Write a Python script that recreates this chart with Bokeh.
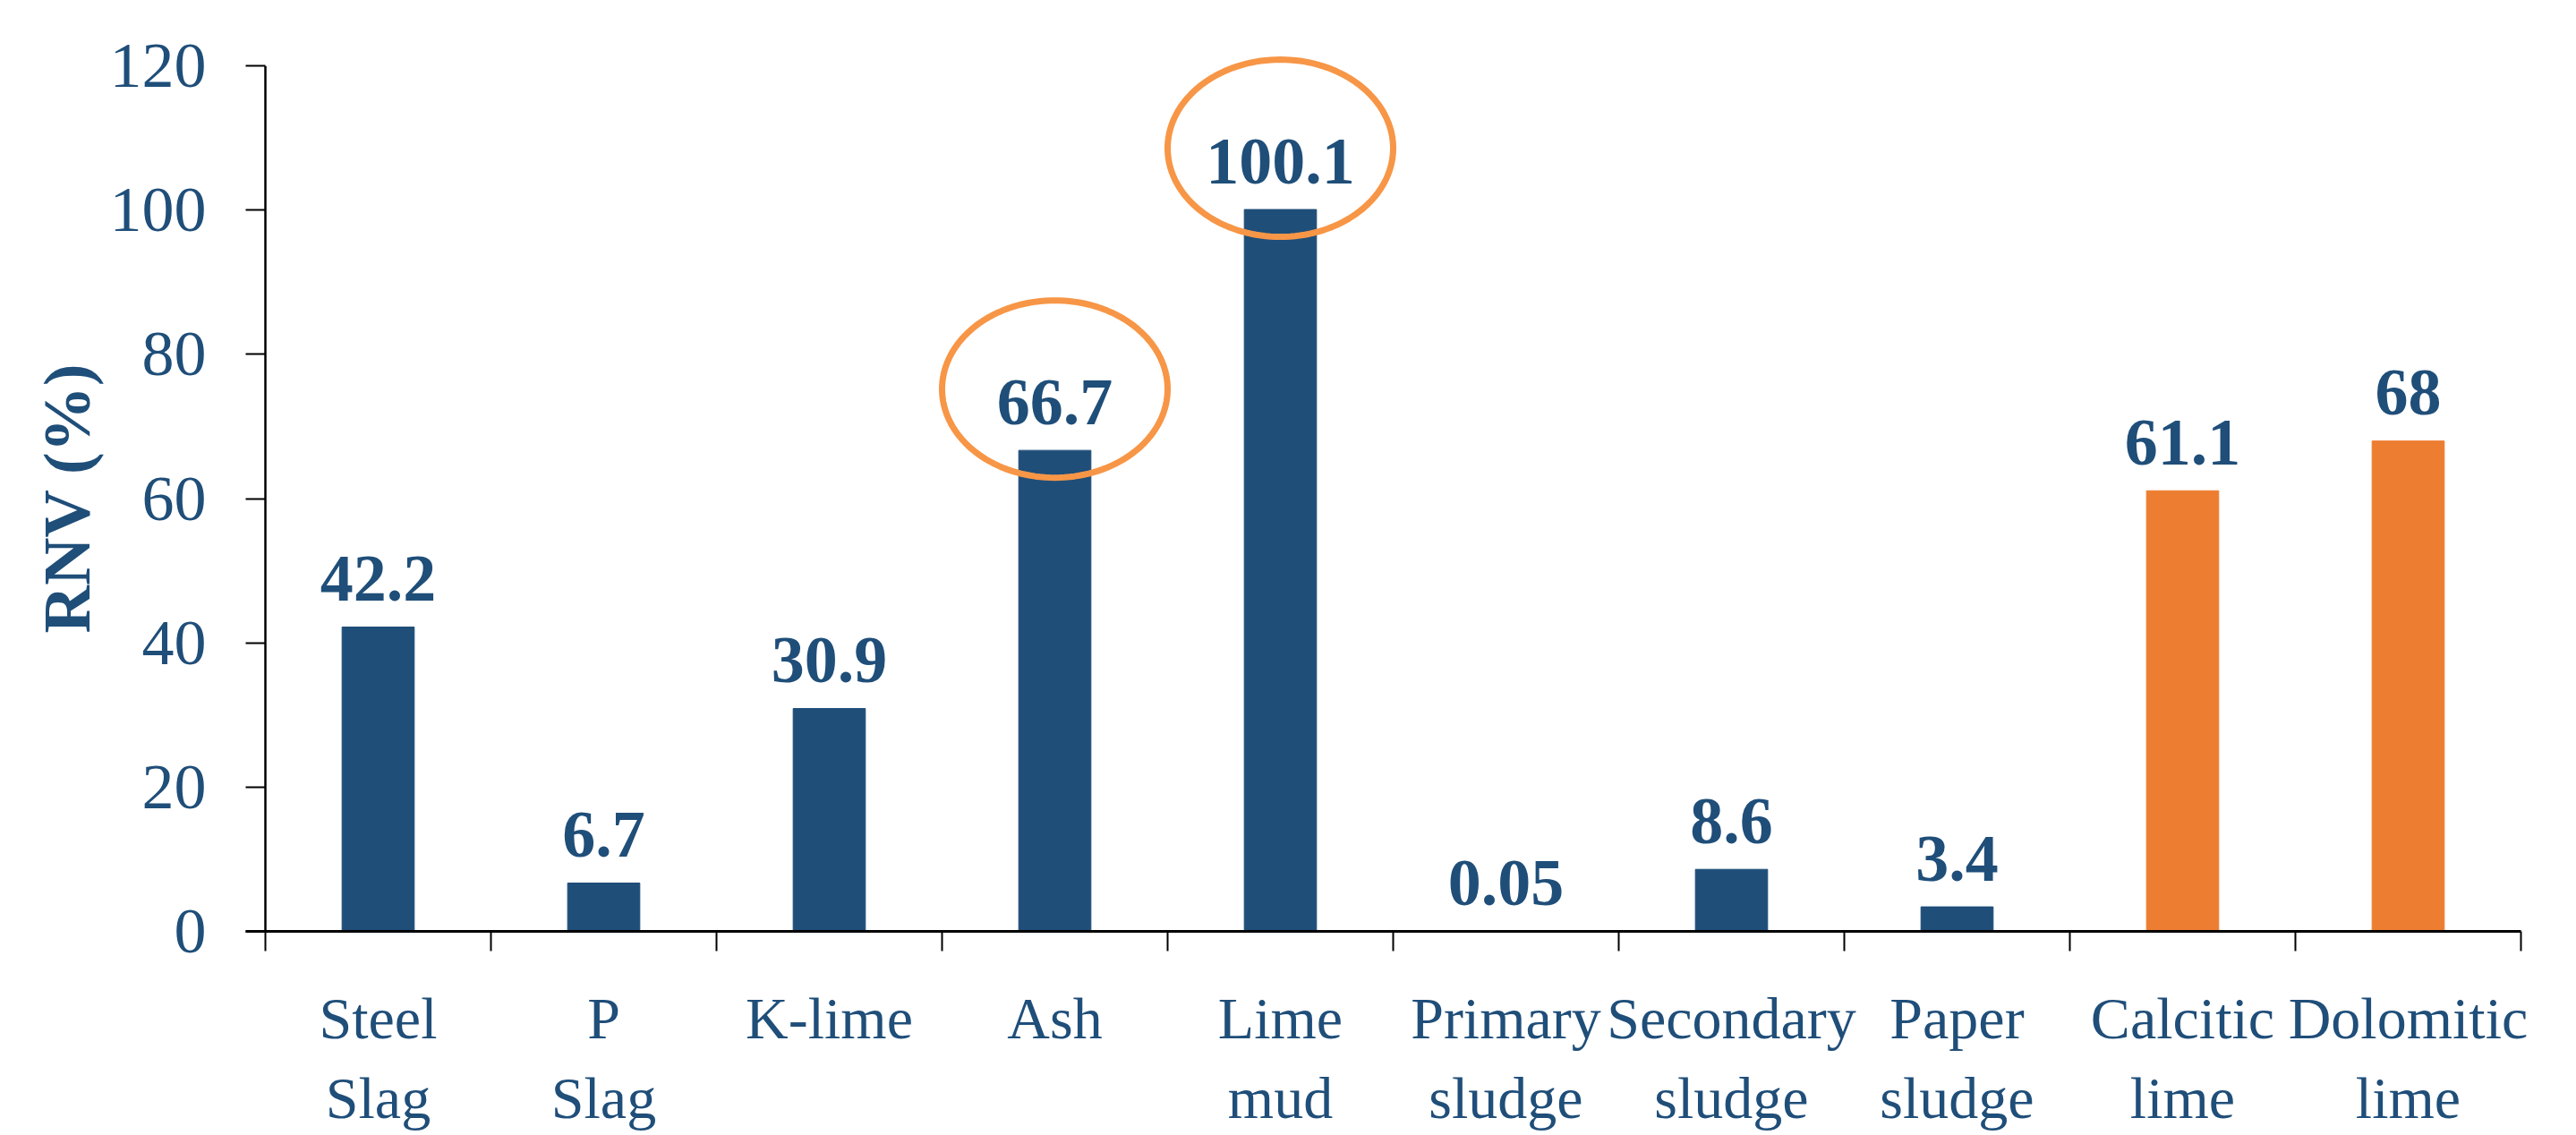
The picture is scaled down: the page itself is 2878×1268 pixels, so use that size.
import numpy as np
from bokeh.plotting import figure
from bokeh.models import FixedTicker, Range1d, PolyAnnotation, ColumnDataSource, Title
from bokeh.core.properties import value
from bokeh.embed import file_html
from bokeh.resources import INLINE

# ---- data ----
categories = ["Steel\nSlag", "P\nSlag", "K-lime", "Ash", "Lime\nmud",
              "Primary\nsludge", "Secondary\nsludge", "Paper\nsludge",
              "Calcitic\nlime", "Dolomitic\nlime"]
rnv = [42.2, 6.7, 30.9, 66.7, 100.1, 0.05, 8.6, 3.4, 61.1, 68]
value_labels = ["42.2", "6.7", "30.9", "66.7", "100.1", "0.05", "8.6", "3.4", "61.1", "68"]
group = ["by-product"] * 8 + ["lime"] * 2
highlighted = ["Ash", "Lime\nmud"]
y_ticks = [0, 20, 40, 60, 80, 100, 120]

# ---- style ----
BLUE = "#1F4E79"
ORANGE = "#ED7D31"
RING = "#F79646"
FONT = "Liberation Serif"
group_colors = {"by-product": BLUE, "lime": ORANGE}

n = len(categories)
xs = list(range(n))
x_pad = 22.0 / 252.0          # frame starts one tick-length left of the value axis
y_top = 124                   # room above the last tick for the highlight ring
src = ColumnDataSource(dict(x=xs, top=rnv, lab=value_labels,
                            color=[group_colors[g] for g in group]))

p = figure(width=2878, height=1268, output_backend="svg", toolbar_location=None,
           x_range=Range1d(-0.5 - x_pad, n - 0.5), y_range=Range1d(0, y_top),
           min_border_left=274, min_border_right=62, min_border_top=41,
           min_border_bottom=228)
p.outline_line_color = None
p.grid.visible = False
p.background_fill_color = "white"
p.border_fill_color = "white"

# value-axis line (from first to last tick only)
p.segment(x0=[-0.5], y0=[y_ticks[0]], x1=[-0.5], y1=[y_ticks[-1]],
          line_color="black", line_width=2.5)

p.vbar(x="x", top="top", width=0.32, color="color", source=src)
p.text(x="x", y="top", text="lab", source=src, text_align="center",
       text_baseline="alphabetic", y_offset=-54, text_color=BLUE,
       text_font=value(FONT), text_font_style="bold", text_font_size="74px")

# highlight rings
px_per_x = 252.0
px_per_y = 999.0 / y_top
t = np.linspace(0, 2 * np.pi, 145)
for cat in highlighted:
    i = categories.index(cat)
    cx = xs[i]
    cy = rnv[i] + 8.5
    a = 126.0 / px_per_x
    b = 99.0 / px_per_y
    p.add_layout(PolyAnnotation(xs=list(cx + a * np.cos(t)), ys=list(cy + b * np.sin(t)),
                                fill_alpha=0, fill_color=None, line_color=RING,
                                line_alpha=1.0, line_width=7))

# y axis
ya = p.yaxis[0]
ya.ticker = FixedTicker(ticks=y_ticks, minor_ticks=[])
ya.axis_line_color = None
ya.major_tick_in = 22
ya.major_tick_out = 0
ya.major_tick_line_width = 2
ya.major_tick_line_color = "black"
ya.major_label_standoff = 44
ya.major_label_text_font = FONT
ya.major_label_text_font_size = "72px"
ya.major_label_text_color = BLUE

p.add_layout(Title(text="RNV (%)", align="left", offset=333, standoff=8,
                   text_font=FONT, text_font_style="bold", text_font_size="74px",
                   text_color=BLUE), "left")

# x axis
xa = p.xaxis[0]
xa.ticker = FixedTicker(ticks=xs, minor_ticks=[x - 0.5 for x in xs] + [n - 0.5])
xa.axis_line_width = 3
xa.axis_line_color = "black"
xa.major_tick_line_color = None
xa.major_tick_in = 0
xa.major_tick_out = 0
xa.minor_tick_in = 0
xa.minor_tick_out = 22
xa.minor_tick_line_width = 2
xa.minor_tick_line_color = "black"
xa.major_label_overrides = {x: c for x, c in zip(xs, categories)}
xa.major_label_standoff = 38
xa.major_label_text_font = FONT
xa.major_label_text_font_size = "66px"
xa.major_label_text_color = BLUE
xa.major_label_text_line_height = 1.23

open("out.html", "w").write(file_html(p, INLINE))
